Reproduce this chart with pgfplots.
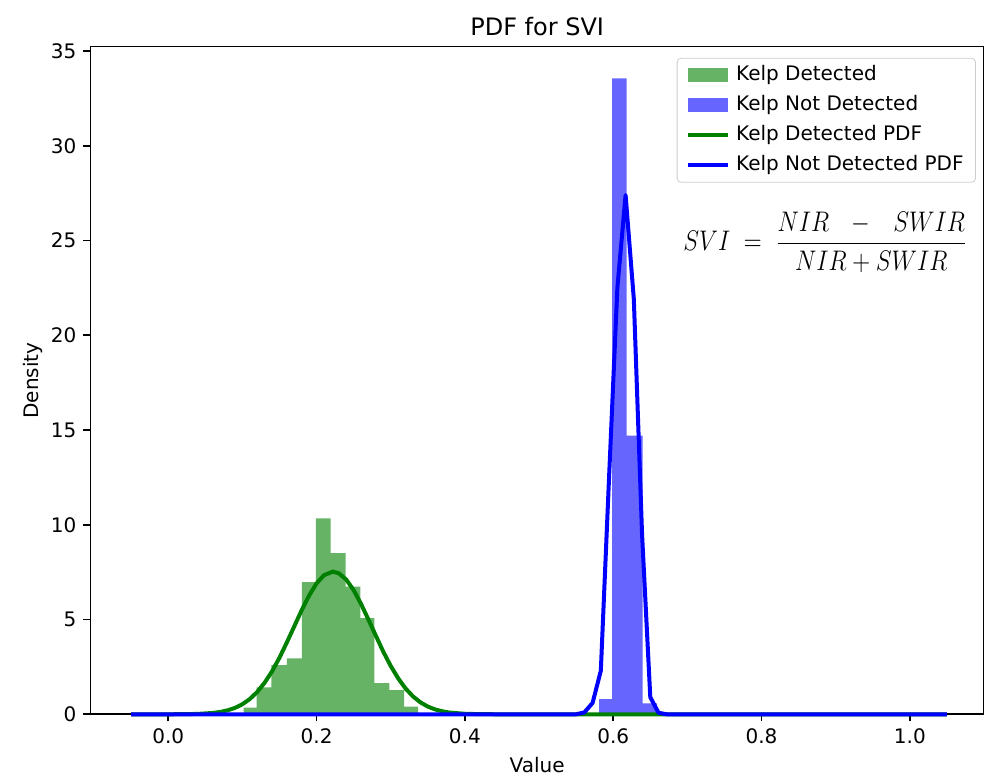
\documentclass[border=0pt]{standalone}
\usepackage{fontspec}
\setmainfont{DejaVu Sans}
\usepackage{graphicx}
\usepackage{pgfplots}
\pgfplotsset{compat=1.18}
\definecolor{hgreen}{RGB}{102,179,102}
\definecolor{hblue}{RGB}{102,102,255}
\definecolor{lgreen}{RGB}{0,128,0}
\definecolor{lblue}{RGB}{0,0,255}
\begin{document}
\begin{tikzpicture}
\path[use as bounding box] (-45.2pt,-32.85pt) rectangle (446.8pt,357.15pt);
\begin{axis}[
  at={(0pt,0pt)}, anchor=south west,
  width=446.8pt, height=333.9pt, scale only axis,
  xmin=-0.105, xmax=1.1, ymin=0, ymax=35.24,
  clip=false,
  axis line style={line width=0.8pt, black},
  tick style={line width=0.8pt, black},
  major tick length=3.5pt,
  tick align=outside,
  xtick pos=bottom, ytick pos=left,
  xtick={0,0.2,0.4,0.6,0.8,1.0},
  ytick={0,5,10,15,20,25,30,35},
  xticklabel style={/pgf/number format/.cd, fixed, fixed zerofill, precision=1},
  /pgf/number format/assume math mode=true,
  tick label style={font=\fontsize{10}{12}\selectfont},
  label style={font=\fontsize{10}{12}\selectfont},
  title={PDF for SVI},
  title style={font=\fontsize{12}{14}\selectfont, yshift=-4pt},
  xlabel={Value}, ylabel={Density},
  ylabel shift=-3pt,
  legend cell align=left,
  legend style={at={(0.991,0.983)}, anchor=north east, draw=black!20, rounded corners=2pt,
    fill=white, font=\fontsize{10}{12}\selectfont,
    nodes={inner sep=1.5pt, text height=7.5pt, text depth=2.5pt},
    row sep=2pt, column sep=1.5pt, inner xsep=4.5pt, inner ysep=2pt},
]
\addplot[const plot, fill=hgreen, draw=none,
  legend image code/.code={\fill[hgreen, sharp corners] (0pt,-3.5pt) rectangle (20pt,3.5pt);}]
  coordinates {(0.1015,0.35)(0.1192,1.42)(0.1390,2.60)(0.1600,2.95)(0.1800,6.98)(0.1990,10.34)(0.2190,8.50)(0.2390,6.74)(0.2590,5.07)(0.2780,1.64)(0.2980,1.28)(0.3180,0.40)(0.3370,0)} \closedcycle;
\addlegendentry{Kelp Detected}
\addplot[const plot, fill=hblue, draw=none,
  legend image code/.code={\fill[hblue, sharp corners] (0pt,-3.5pt) rectangle (20pt,3.5pt);}]
  coordinates {(0.5810,0.80)(0.5986,33.56)(0.6180,14.70)(0.6396,0.58)(0.6590,0)} \closedcycle;
\addlegendentry{Kelp Not Detected}
\addplot[lgreen, line width=2pt,
  legend image code/.code={\draw[lgreen, line width=2pt, sharp corners] (0pt,0pt) -- (20pt,0pt);}]
  coordinates {(-0.05,0)(0.00,0.001)(0.02,0.005)(0.04,0.021)(0.06,0.071)(0.07,0.123)(0.08,0.208)(0.09,0.339)(0.10,0.532)(0.11,0.807)(0.12,1.18)(0.13,1.67)(0.14,2.27)(0.15,2.99)(0.16,3.80)(0.17,4.65)(0.18,5.50)(0.19,6.27)(0.20,6.91)(0.21,7.34)(0.222,7.53)(0.23,7.44)(0.24,7.11)(0.25,6.55)(0.26,5.82)(0.27,4.99)(0.28,4.14)(0.29,3.30)(0.30,2.55)(0.31,1.90)(0.32,1.36)(0.33,0.944)(0.34,0.632)(0.35,0.407)(0.36,0.254)(0.37,0.153)(0.38,0.088)(0.40,0.027)(0.42,0.007)(0.44,0.002)(0.46,0)(1.05,0)};
\addlegendentry{Kelp Detected PDF}
\addplot[lblue, line width=2pt, line join=round,
  legend image code/.code={\draw[lblue, line width=2pt, sharp corners] (0pt,0pt) -- (20pt,0pt);}]
  coordinates {(-0.05,0)(0.5500,0)(0.5611,0.10)(0.5722,0.60)(0.5833,2.30)(0.5944,12.5)(0.6056,22.5)(0.6167,27.4)(0.6278,21.9)(0.6389,9.5)(0.6500,0.9)(0.6611,0.08)(0.6722,0)(1.05,0)};
\addlegendentry{Kelp Not Detected PDF}
\node[anchor=base, inner sep=0pt, font=\fontsize{13}{15}\selectfont] at (axis cs:0.886,24.45)
  {\scalebox{1.0}[1.18]{$\displaystyle SVI\;=\;\frac{NIR\;\;\,-\,\;\;SWIR}{NIR+SWIR}$}};
\end{axis}
\end{tikzpicture}
\end{document}
